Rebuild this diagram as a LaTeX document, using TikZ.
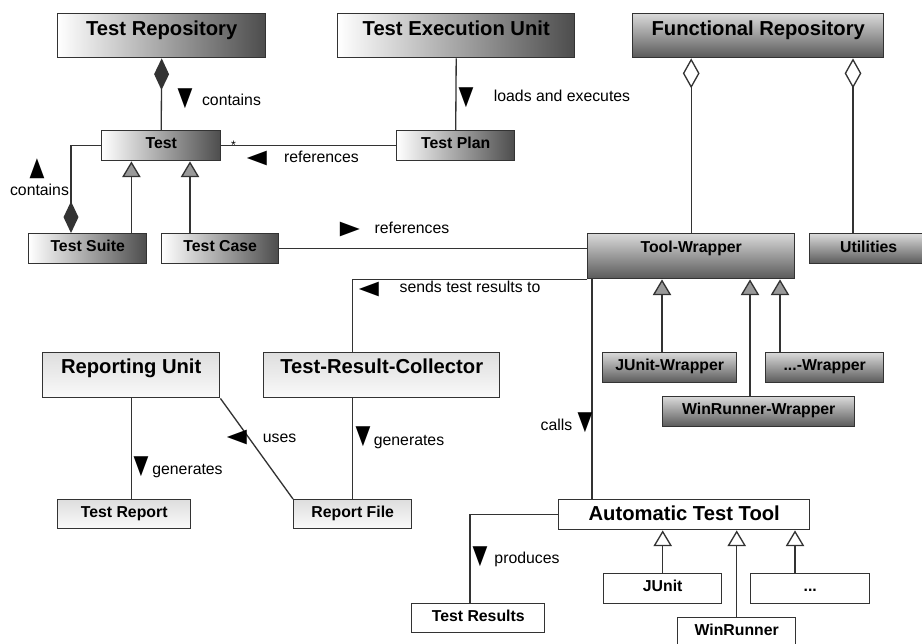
\documentclass[tikz,border=0pt]{standalone}
\usepackage{fontspec}
\setmainfont{Liberation Sans}
\newfontfamily\symfont{DejaVu Sans}
\usetikzlibrary{arrows.meta, calc, positioning}

\newcommand{\px}{0.02cm}
\newcommand{\tdn}{\scalebox{1}[1.35]{▼}}
\newcommand{\tup}{\scalebox{1}[1.35]{▲}}
\newcommand{\tlt}{\scalebox{1.35}[1]{◀}}
\newcommand{\trt}{\scalebox{1.35}[1]{▶}}

\begin{document}
\begin{tikzpicture}[
    x=0.02cm, y=-0.02cm,
    box/.style={draw=black!80, line width=0.8pt, inner sep=0pt, anchor=north west, font=\bfseries\fontsize{9}{10}\selectfont},
    bigtext/.style={font=\bfseries\fontsize{11.5}{13}\selectfont},
    sz/.style n args={3}{minimum width=#1*\px, text height=#3*\px, text depth=(#2-#3)*\px},
    hshade/.style={left color=white, middle color=black!20, right color=black!70},
    vshade/.style={top color=black!15, bottom color=black!65},
    lshade/.style={top color=black!13, bottom color=black!2},
    plain/.style={fill=white},
    line/.style={draw=black!80, line width=0.75pt},
    comp/.style={line, -{Diamond[length=18pt, width=8.5pt]}},
    aggr/.style={line, -{Diamond[length=17pt, width=9.5pt, fill=white]}},
    inh/.style={line, -{Triangle[length=9pt, width=10.5pt, fill=black!40]}},
    inhw/.style={line, -{Triangle[length=9pt, width=10.5pt, fill=white]}},
    lbl/.style={font=\fontsize{9}{10}\selectfont, inner sep=0pt, anchor=mid},
    tri/.style={font=\symfont\fontsize{11}{12}\selectfont, inner sep=0pt}
]
    \useasboundingbox (0,0) rectangle (922,644);
    \clip (0,0) rectangle (922,644);
    \fill[white] (0,0) rectangle (922,644);

    % Top row
    \node[box, bigtext, hshade, sz={208}{44}{22}] (repo) at (57,13) {Test Repository};
    \node[box, bigtext, hshade, sz={237}{44}{22}] (exec) at (337,13) {Test Execution Unit};
    \node[box, bigtext, vshade, sz={251}{44}{22}] (frepo) at (632,13) {Functional Repository};

    % Tests
    \node[box, hshade, sz={119}{30}{18}] (test) at (101,130) {Test};
    \node[box, hshade, sz={118}{30}{18}] (tplan) at (396,130) {Test Plan};
    \node[box, hshade, sz={118}{30}{18}] (tsuite) at (28,233) {Test Suite};
    \node[box, hshade, sz={117}{30}{18}] (tcase) at (161,233) {Test Case};

    % Wrappers
    \node[box, vshade, sz={207}{45}{19}] (twrap) at (587,233) {Tool-Wrapper};
    \node[box, vshade, sz={118}{30}{19}] (util) at (809,233) {Utilities};
    \node[box, vshade, sz={134}{30}{18}] (jwrap) at (602,352) {JUnit-Wrapper};
    \node[box, vshade, sz={118}{30}{18}] (dwrap) at (765,352) {...-Wrapper};
    \node[box, vshade, sz={192}{30}{18}] (wwrap) at (662,396) {WinRunner-Wrapper};

    % Reporting
    \node[box, bigtext, lshade, sz={177}{45}{21}] (runit) at (42,352) {Reporting Unit};
    \node[box, bigtext, lshade, sz={236}{45}{21}] (trc) at (263,352) {Test-Result-Collector};
    \node[box, lshade, sz={133}{29}{18}] (treport) at (57,499) {Test Report};
    \node[box, lshade, sz={118}{29}{18}] (rfile) at (293,499) {Report File};

    % Tools
    \node[box, bigtext, plain, sz={251}{30}{21}] (att) at (558,499) {Automatic Test Tool};
    \node[box, plain, sz={118}{30}{18}] (junit) at (603,573) {JUnit};
    \node[box, plain, sz={119}{30}{18}] (dots) at (750,573) {...};
    \node[box, plain, sz={118}{30}{18}] (winr) at (677,617) {WinRunner};
    \node[box, plain, sz={133}{29}{18}] (tres) at (411,603) {Test Results};

    % Attachment points
    \coordinate (c-suite) at ($(tsuite.north west)+(43,0)$);
    \coordinate (c-ts) at ($(tsuite.north east)+(-16,0)$);
    \coordinate (c-tc) at ($(tcase.north west)+(29,0)$);
    \coordinate (c-util) at ($(util.north west)+(44,0)$);
    \coordinate (c-jw) at ($(jwrap.north west)+(60,0)$);
    \coordinate (c-ww) at ($(wwrap.north west)+(88,0)$);
    \coordinate (c-dw) at ($(dwrap.north west)+(15,0)$);
    \coordinate (c-dt) at ($(dots.north west)+(45,0)$);
    \coordinate (c-tw) at ($(twrap.south west)+(5,0)$);
    \coordinate (c-tr) at ($(tres.north west)+(59,0)$);

    % Composition and aggregation
    \draw[comp] (test.north) -- (repo.south);
    \draw[comp] (test.west) -| (c-suite);
    \draw[aggr] (twrap.north) -- (twrap.north |- frepo.south);
    \draw[aggr] (c-util) -- (c-util |- frepo.south);

    % Inheritance
    \draw[inh] (c-ts) -- (c-ts |- test.south);
    \draw[inh] (c-tc) -- (c-tc |- test.south);
    \draw[inh] (c-jw) -- (c-jw |- twrap.south);
    \draw[inh] (c-ww) -- (c-ww |- twrap.south);
    \draw[inh] (c-dw) -- (c-dw |- twrap.south);
    \draw[inhw] (junit.north) -- (junit.north |- att.south);
    \draw[inhw] (winr.north) -- (winr.north |- att.south);
    \draw[inhw] (c-dt) -- (c-dt |- att.south);

    % Associations
    \draw[line] (exec.south) -- (tplan.north);
    \draw[line] (tplan.west) -- (test.east) node[pos=0.93, anchor=base, yshift=-2.2pt, inner sep=0pt, font=\fontsize{7}{8}\selectfont] {*};
    \draw[line] (tcase.east) -- (tcase.east -| twrap.west);
    \draw[line] (twrap.south west) -| (trc.north -| rfile.north);
    \draw[line] (trc.south -| rfile.north) -- (rfile.north);
    \draw[line] (runit.south) -- (runit.south |- treport.north);
    \draw[line] (runit.south east) -- (rfile.north west);
    \draw[line] (c-tw) -- (c-tw |- att.north);
    \draw[line] (att.west) -| (c-tr);

    % Labels
    \node[tri] (a1) at (185,99) {\tdn};
    \node[lbl] (l1) at (231.5,101) {contains};
    \node[tri] (a2) at (37,169) {\tup};
    \node[lbl] (l2) at (39.5,191) {contains};
    \node[tri] (a3) at (257,158) {\tlt};
    \node[lbl] (l3) at (321.5,158) {references};
    \node[tri] (a4) at (466,98) {\tdn};
    \node[lbl] (l4) at (562,97) {loads and executes};
    \node[tri] (a5) at (350,229) {\trt};
    \node[lbl] (l5) at (412,229) {references};
    \node[tri] (a6) at (369,289) {\tlt};
    \node[lbl] (l6) at (470,288) {sends test results to};
    \node[tri] (a7) at (141,467) {\tdn};
    \node[lbl] (l7) at (187.5,470) {generates};
    \node[tri] (a8) at (237,437) {\tlt};
    \node[lbl] (l8) at (279.5,438) {uses};
    \node[tri] (a9) at (363,437) {\tdn};
    \node[lbl] (l9) at (409,441) {generates};
    \node[tri] (a10) at (585,423) {\tdn};
    \node[lbl] (l10) at (556.5,426) {calls};
    \node[tri] (a11) at (480,557) {\tdn};
    \node[lbl] (l11) at (527,559) {produces};
\end{tikzpicture}
\end{document}
